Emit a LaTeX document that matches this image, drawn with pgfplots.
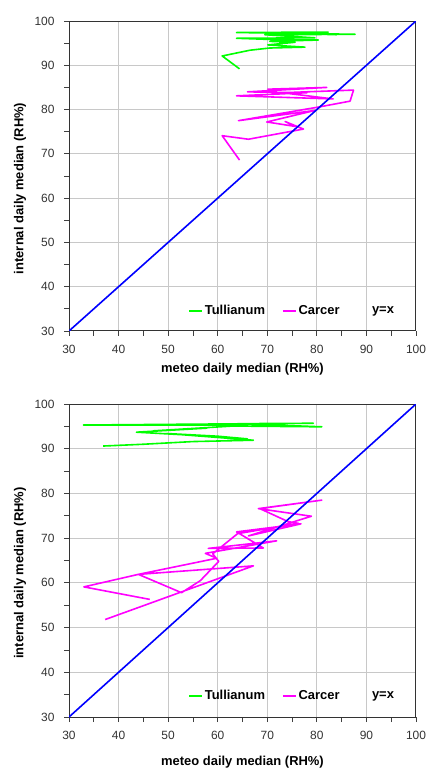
\documentclass[border=0pt]{standalone}
\usepackage{fontspec}
\setmainfont{Liberation Sans}
\usepackage{pgfplots}
\pgfplotsset{compat=1.18}
\definecolor{tgreen}{RGB}{0,255,0}
\definecolor{cmag}{RGB}{255,0,255}
\definecolor{yxblue}{RGB}{0,0,255}
\definecolor{gridgray}{RGB}{200,200,200}
\definecolor{ticktext}{RGB}{51,51,51}

\pgfplotstableread{
x y
64.4 89.2
60.9 92.1
66.5 93.4
70.5 93.9
77.6 94.1
70.1 94.6
75.6 95.2
70.5 95.4
80.3 95.7
71.5 95.8
63.8 96.1
79.6 96.2
69.5 96.9
87.7 97.0
63.8 97.4
82.3 97.5
72.0 97.3
84.0 96.9
}\topgreen

\pgfplotstableread{
x y
64.4 68.6
60.9 74.1
66.2 73.3
77.3 75.6
73.6 77.3
75.6 76.2
69.9 77.2
79.6 79.8
64.2 77.5
80.5 80.6
86.7 81.9
87.4 84.4
73.0 83.8
83.3 82.4
63.8 83.1
78.0 83.8
66.0 84.0
82.0 85.0
70.0 84.6
}\topmag

\pgfplotstableread{
x y
36.9 90.6
45.0 91.0
55.0 91.6
67.2 91.9
49.7 93.4
60.0 92.8
66.0 92.2
55.0 93.0
43.6 93.7
57.8 94.6
47.0 94.0
62.0 95.0
66.0 95.3
32.9 95.3
79.3 95.7
64.0 95.6
81.0 94.9
60.0 95.1
}\botgreen

\pgfplotstableread{
x y
37.3 51.8
67.2 63.8
44.0 61.9
59.8 65.5
57.5 66.6
71.9 69.4
58.1 67.7
69.2 67.8
63.8 71.4
76.8 73.2
66.2 70.5
78.9 74.9
68.2 76.6
81.0 78.5
68.5 76.6
74.2 73.7
76.3 73.3
64.0 71.0
59.0 66.5
60.2 64.8
56.5 60.5
52.7 57.8
44.0 61.9
33.0 59.1
46.3 56.3
}\botmag

\pgfplotsset{
  legend image code/.code={\draw[#1] (0bp,0bp) -- (13bp,0bp);},
}
\pgfplotsset{
  rhstyle/.style={
    scale only axis, width=347bp,
    xmin=30, xmax=100, ymin=30, ymax=100,
    xtick={30,40,...,100}, ytick={30,40,...,100},
    minor tick num=1,
    xtick pos=bottom, ytick pos=left,
    tick align=outside,
    major tick length=5bp, minor tick length=5bp,
    grid=major,
    major grid style={gridgray, line width=1bp},
    axis line style={black!80, line width=1bp},
    tick style={black!75, line width=0.8bp},
    ticklabel style={font=\fontsize{12}{14}\selectfont, text=ticktext},
    xticklabel style={yshift=-6bp},
    yticklabel style={xshift=-6bp},
    /pgf/number format/assume math mode=true,
    label style={font=\bfseries\fontsize{13}{15}\selectfont},
    xlabel={meteo daily median (RH\%)},
    ylabel={internal daily median (RH\%)},
    ylabel style={at={(axis description cs:-0.141,0.46)}, anchor=center},
    legend columns=3,
    legend style={draw=none, fill=none,
      font=\bfseries\fontsize{13}{15}\selectfont,
      anchor=center,
      /tikz/every even column/.append style={column sep=15bp}},
  },
  greenline/.style={tgreen, line width=1.6bp, line join=round},
  magline/.style={cmag, line width=1.6bp, line join=round},
  blueline/.style={yxblue, line width=1.6bp, forget plot},
}

\begin{document}
\begin{tikzpicture}
\path[use as bounding box] (0,0) rectangle (427bp,769bp);

\begin{axis}[rhstyle, at={(69bp,438bp)}, height=310bp,
  xlabel style={at={(axis description cs:0.5,-0.1226)}, anchor=center},
  legend style={at={(0.643,0.0645)}}]
\addplot[greenline] table[x=x,y=y] {\topgreen};
\addlegendentry{Tullianum}
\addplot[magline] table[x=x,y=y] {\topmag};
\addlegendentry{Carcer}
\addplot[blueline] coordinates {(30,30) (100,100)};
\addlegendimage{draw opacity=0}
\addlegendentry{y=x}
\end{axis}

\begin{axis}[rhstyle, at={(69bp,52bp)}, height=313bp,
  xlabel style={at={(axis description cs:0.5,-0.144)}, anchor=center},
  legend style={at={(0.643,0.067)}}]
\addplot[greenline] table[x=x,y=y] {\botgreen};
\addlegendentry{Tullianum}
\addplot[magline] table[x=x,y=y] {\botmag};
\addlegendentry{Carcer}
\addplot[blueline] coordinates {(30,30) (100,100)};
\addlegendimage{draw opacity=0}
\addlegendentry{y=x}
\end{axis}
\end{tikzpicture}
\end{document}
